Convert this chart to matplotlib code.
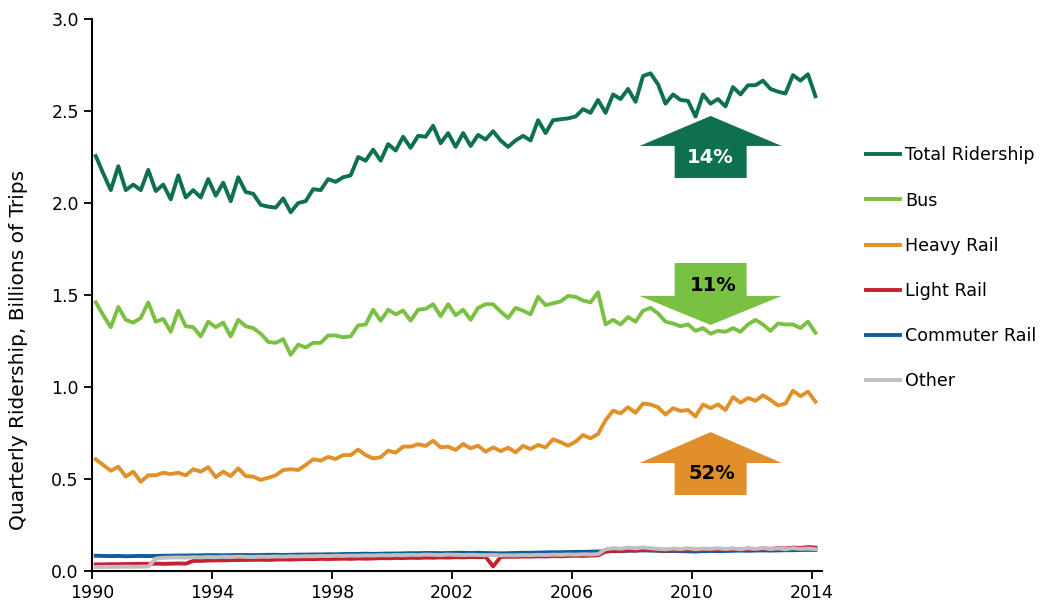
import matplotlib
matplotlib.use("Agg")
import matplotlib.pyplot as plt
from matplotlib.patches import Polygon

plt.rcParams['font.family'] = ['DejaVu Sans']

# quarterly data, 1990 Q1 .. 2014 Q1 (billions of trips)
first_year = 1990
n_quarters = 97

total = [2.255, 2.16, 2.07, 2.20, 2.07, 2.10, 2.07, 2.18, 2.065, 2.10,
         2.02, 2.15, 2.03, 2.07, 2.03, 2.13, 2.04, 2.11, 2.01, 2.14,
         2.06, 2.05, 1.99, 1.98, 1.975, 2.025, 1.95, 2.00, 2.01, 2.075,
         2.07, 2.13, 2.115, 2.14, 2.15, 2.25, 2.23, 2.29, 2.23, 2.32,
         2.285, 2.36, 2.30, 2.365, 2.36, 2.42, 2.325, 2.38, 2.305, 2.38,
         2.31, 2.37, 2.345, 2.39, 2.34, 2.305, 2.34, 2.365, 2.34, 2.45,
         2.38, 2.45, 2.455, 2.46, 2.47, 2.51, 2.49, 2.56, 2.49, 2.59,
         2.565, 2.62, 2.55, 2.69, 2.705, 2.645, 2.54, 2.59, 2.56, 2.555,
         2.47, 2.59, 2.54, 2.565, 2.525, 2.63, 2.59, 2.64, 2.64, 2.665,
         2.62, 2.605, 2.595, 2.695, 2.665, 2.70, 2.58]

bus = [1.46, 1.39, 1.325, 1.435, 1.365, 1.35, 1.375, 1.46, 1.355, 1.37,
       1.30, 1.415, 1.33, 1.325, 1.275, 1.355, 1.325, 1.35, 1.275, 1.365,
       1.33, 1.32, 1.29, 1.245, 1.24, 1.26, 1.175, 1.23, 1.215, 1.24,
       1.24, 1.28, 1.28, 1.27, 1.275, 1.335, 1.34, 1.42, 1.36, 1.42,
       1.395, 1.415, 1.36, 1.42, 1.425, 1.45, 1.385, 1.45, 1.39, 1.42,
       1.365, 1.43, 1.45, 1.45, 1.41, 1.375, 1.43, 1.415, 1.395, 1.49,
       1.445, 1.455, 1.465, 1.495, 1.49, 1.47, 1.46, 1.515, 1.34, 1.365,
       1.34, 1.38, 1.355, 1.415, 1.43, 1.40, 1.355, 1.345, 1.33, 1.34,
       1.305, 1.32, 1.29, 1.305, 1.30, 1.32, 1.30, 1.34, 1.365, 1.34,
       1.305, 1.345, 1.34, 1.34, 1.32, 1.355, 1.295]

heavy_rail = [0.607, 0.576, 0.545, 0.567, 0.513, 0.54, 0.485, 0.52, 0.52, 0.534,
              0.527, 0.534, 0.52, 0.553, 0.54, 0.564, 0.51, 0.54, 0.516, 0.558,
              0.516, 0.513, 0.495, 0.507, 0.52, 0.549, 0.553, 0.549, 0.576, 0.607,
              0.60, 0.62, 0.609, 0.63, 0.63, 0.66, 0.63, 0.612, 0.618, 0.654,
              0.643, 0.676, 0.676, 0.689, 0.68, 0.708, 0.672, 0.676, 0.658, 0.69,
              0.667, 0.681, 0.648, 0.672, 0.652, 0.67, 0.645, 0.68, 0.663, 0.685,
              0.672, 0.716, 0.70, 0.681, 0.703, 0.739, 0.721, 0.745, 0.82, 0.871,
              0.857, 0.89, 0.86, 0.91, 0.905, 0.89, 0.85, 0.885, 0.87, 0.875,
              0.84, 0.905, 0.885, 0.905, 0.875, 0.945, 0.915, 0.94, 0.925, 0.955,
              0.93, 0.90, 0.91, 0.98, 0.95, 0.975, 0.92]

light_rail = [0.036, 0.036, 0.037, 0.037, 0.038, 0.038, 0.039, 0.039, 0.040, 0.039,
              0.040, 0.041, 0.040, 0.055, 0.055, 0.057, 0.058, 0.058, 0.059, 0.060,
              0.060, 0.061, 0.061, 0.060, 0.062, 0.063, 0.062, 0.064, 0.065, 0.064,
              0.066, 0.065, 0.066, 0.067, 0.066, 0.068, 0.067, 0.068, 0.070, 0.069,
              0.071, 0.070, 0.072, 0.071, 0.073, 0.072, 0.074, 0.073, 0.075, 0.074,
              0.076, 0.075, 0.077, 0.025, 0.076, 0.078, 0.077, 0.079, 0.078, 0.080,
              0.079, 0.081, 0.080, 0.082, 0.083, 0.082, 0.084, 0.085, 0.105, 0.110,
              0.108, 0.113, 0.111, 0.116, 0.114, 0.112, 0.110, 0.113, 0.112, 0.115,
              0.111, 0.116, 0.114, 0.117, 0.115, 0.120, 0.117, 0.121, 0.119, 0.123,
              0.120, 0.124, 0.122, 0.127, 0.125, 0.130, 0.127]

commuter_rail = [0.083, 0.082, 0.081, 0.082, 0.080, 0.081, 0.082, 0.081, 0.082, 0.083,
                 0.083, 0.084, 0.084, 0.085, 0.085, 0.086, 0.086, 0.085, 0.086, 0.087,
                 0.087, 0.086, 0.087, 0.088, 0.088, 0.087, 0.088, 0.089, 0.089, 0.090,
                 0.090, 0.091, 0.091, 0.092, 0.093, 0.093, 0.094, 0.093, 0.094, 0.095,
                 0.095, 0.096, 0.097, 0.097, 0.098, 0.098, 0.097, 0.098, 0.099, 0.099,
                 0.098, 0.099, 0.098, 0.097, 0.096, 0.097, 0.098, 0.099, 0.099, 0.100,
                 0.101, 0.102, 0.102, 0.103, 0.104, 0.104, 0.105, 0.106, 0.107, 0.108,
                 0.108, 0.110, 0.111, 0.112, 0.111, 0.110, 0.108, 0.109, 0.108, 0.107,
                 0.106, 0.108, 0.109, 0.108, 0.109, 0.110, 0.111, 0.110, 0.111, 0.112,
                 0.111, 0.112, 0.113, 0.113, 0.114, 0.115, 0.114]

other = [0.022, 0.022, 0.023, 0.023, 0.024, 0.023, 0.024, 0.024, 0.068, 0.072,
         0.073, 0.074, 0.073, 0.075, 0.074, 0.076, 0.075, 0.077, 0.076, 0.078,
         0.077, 0.076, 0.078, 0.077, 0.079, 0.078, 0.080, 0.079, 0.081, 0.080,
         0.082, 0.081, 0.083, 0.082, 0.084, 0.083, 0.085, 0.084, 0.086, 0.085,
         0.087, 0.086, 0.088, 0.087, 0.089, 0.088, 0.087, 0.089, 0.088, 0.087,
         0.088, 0.087, 0.086, 0.087, 0.085, 0.086, 0.085, 0.087, 0.086, 0.088,
         0.087, 0.089, 0.088, 0.090, 0.089, 0.091, 0.090, 0.092, 0.118, 0.124,
         0.121, 0.127, 0.123, 0.128, 0.124, 0.120, 0.118, 0.122, 0.119, 0.124,
         0.118, 0.122, 0.120, 0.124, 0.119, 0.123, 0.118, 0.124, 0.120, 0.125,
         0.119, 0.123, 0.118, 0.124, 0.120, 0.122, 0.118]

# change labels for the arrows
changes = ["14%", "11%", "52%"]

# quarter mid-points
x = [first_year + 0.125 + 0.25 * i for i in range(n_quarters)]

c_total = "#0E7050"
c_bus = "#7AC143"
c_heavy = "#E0912A"
c_light = "#C8202F"
c_commuter = "#105BA0"
c_other = "#BFBFBF"

fig = plt.figure(figsize=(10.4, 6.07), dpi=100)
ax = fig.add_axes([0.0885, 0.0593, 0.7015, 0.9094])

lw = 2.8
l_total, = ax.plot(x, total, color=c_total, lw=lw, label="Total Ridership")
l_bus, = ax.plot(x, bus, color=c_bus, lw=lw, label="Bus")
l_heavy, = ax.plot(x, heavy_rail, color=c_heavy, lw=lw, label="Heavy Rail")
l_comm, = ax.plot(x, commuter_rail, color=c_commuter, lw=lw, label="Commuter Rail")
l_light, = ax.plot(x, light_rail, color=c_light, lw=lw, label="Light Rail")
l_other, = ax.plot(x, other, color=c_other, lw=lw, label="Other")


def block_arrow(ax, xc, y_tail, y_base, y_tip, color):
    # big block arrow: shaft from y_tail to y_base, head from y_base to y_tip
    sw, hw = 1.2, 2.37
    pts = [(xc - sw, y_tail), (xc - sw, y_base), (xc - hw, y_base), (xc, y_tip),
           (xc + hw, y_base), (xc + sw, y_base), (xc + sw, y_tail)]
    ax.add_patch(Polygon(pts, closed=True, color=color, lw=0, zorder=5))


xc = 2010.63
block_arrow(ax, xc, 2.136, 2.31, 2.473, c_total)
ax.text(xc, 2.245, changes[0], color="white", fontsize=14, fontweight="bold",
        ha="center", va="center", zorder=6)
block_arrow(ax, xc, 1.674, 1.495, 1.337, c_bus)
ax.text(xc + 0.1, 1.554, changes[1], color="black", fontsize=14, fontweight="bold",
        ha="center", va="center", zorder=6)
block_arrow(ax, xc, 0.413, 0.587, 0.755, "#E08F2A")
ax.text(xc + 0.05, 0.53, changes[2], color="black", fontsize=14, fontweight="bold",
        ha="center", va="center", zorder=6)

ax.set_xlim(1990, 2014.33)
ax.set_ylim(0, 3)
ax.set_xticks(range(1990, 2015, 4))
ax.set_yticks([0, 0.5, 1.0, 1.5, 2.0, 2.5, 3.0])
ax.set_yticklabels(["0.0", "0.5", "1.0", "1.5", "2.0", "2.5", "3.0"])
ax.tick_params(axis="both", labelsize=12.5, direction="out", width=1.3, length=6)
ax.set_ylabel("Quarterly Ridership, Billions of Trips", fontsize=14.5)
ax.yaxis.set_label_coords(-0.088, 0.40)

for s in ["top", "right"]:
    ax.spines[s].set_visible(False)
for s in ["left", "bottom"]:
    ax.spines[s].set_linewidth(1.5)

handles = [l_total, l_bus, l_heavy, l_light, l_comm, l_other]
fig.legend(handles=handles, labels=[h.get_label() for h in handles],
           loc="center left", bbox_to_anchor=(0.818, 0.558), frameon=False,
           fontsize=12.6, handlelength=1.9, handletextpad=0.3, labelspacing=1.55)

fig.savefig("out.png", dpi=100)
